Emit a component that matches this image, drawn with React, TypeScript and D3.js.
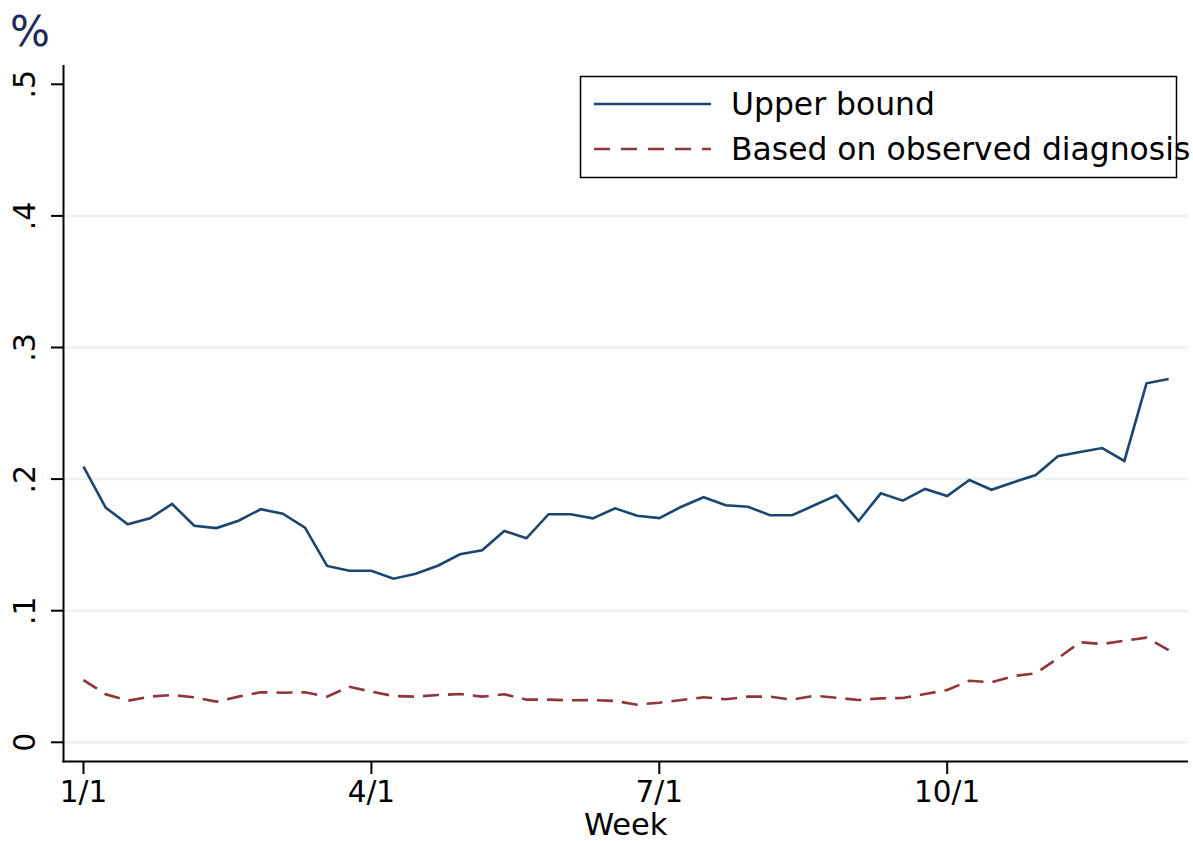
import React from "react";
import * as d3 from "d3";

const weeks: number[] = Array.from({ length: 50 }, (_, i) => i + 1);

const upperBound: number[] = [
  0.2094, 0.1783, 0.1657, 0.1702, 0.1811, 0.1646, 0.1628, 0.1684, 0.1771, 0.1737,
  0.1631, 0.1340, 0.1304, 0.1304, 0.1243, 0.1281, 0.1342, 0.1429, 0.1459, 0.1606,
  0.1550, 0.1733, 0.1733, 0.1702, 0.1778, 0.1722, 0.1704, 0.1790, 0.1862, 0.1801,
  0.1790, 0.1725, 0.1725, 0.1801, 0.1877, 0.1682, 0.1892, 0.1836, 0.1925, 0.1872,
  0.1993, 0.1919, 0.1976, 0.2031, 0.2173, 0.2206, 0.2236, 0.2138, 0.2728, 0.2761,
];

const observed: number[] = [
  0.0473, 0.0365, 0.0316, 0.0347, 0.0359, 0.0342, 0.0309, 0.0347, 0.0380, 0.0377,
  0.0380, 0.0347, 0.0422, 0.0385, 0.0352, 0.0347, 0.0359, 0.0367, 0.0347, 0.0365,
  0.0324, 0.0324, 0.0319, 0.0321, 0.0314, 0.0286, 0.0301, 0.0321, 0.0342, 0.0327,
  0.0347, 0.0347, 0.0324, 0.0354, 0.0339, 0.0321, 0.0334, 0.0337, 0.0367, 0.0397,
  0.0468, 0.0456, 0.0504, 0.0524, 0.0638, 0.0760, 0.0747, 0.0772, 0.0795, 0.0701,
];

const xTickWeeks: number[] = [1, 14, 27, 40];
const xTickLabels: string[] = ["1/1", "4/1", "7/1", "10/1"];
const yTicks: number[] = [0, 0.1, 0.2, 0.3, 0.4, 0.5];
const yTickLabels: string[] = ["0", ".1", ".2", ".3", ".4", ".5"];
const gridTicks: number[] = [0, 0.1, 0.2, 0.3, 0.4];
const seriesNames: string[] = ["Upper bound", "Based on observed diagnosis"];

const FONT = "'DejaVu Sans', sans-serif";
const NAVY = "#1a476f";
const MAROON = "#90353b";

export default function App() {
  const W = 1193;
  const H = 841;
  const axisX = 63.5;
  const axisY = 761.5;
  const axisRight = 1188;
  const axisTop = 65;

  const x = d3.scaleLinear().domain([1, 50]).range([83.5, 83.5 + 49 * 22.146]);
  const y = d3.scaleLinear().domain([0, 0.5]).range([742.3, 84.3]);

  const line = d3
    .line<number>()
    .x((_, i) => x(weeks[i]))
    .y((d) => y(d));

  const upperPath = line(upperBound) || "";
  const obsPath = line(observed) || "";

  return (
    <svg
      width={W}
      height={H}
      viewBox={`0 0 ${W} ${H}`}
      style={{ position: "absolute", left: 0, top: 0, background: "#fff" }}
      fontFamily={FONT}
    >
      <rect x={0} y={0} width={W} height={H} fill="#fff" />
      {gridTicks.map((t) => (
        <line
          key={"g" + t}
          x1={axisX + 1}
          x2={axisRight}
          y1={y(t)}
          y2={y(t)}
          stroke="#eaf1f2"
          strokeWidth={2.5}
        />
      ))}
      <path d={upperPath} fill="none" stroke={NAVY} strokeWidth={2.6} strokeLinejoin="miter" />
      <path
        d={obsPath}
        fill="none"
        stroke={MAROON}
        strokeWidth={2.6}
        strokeDasharray="16 9"
      />
      <line x1={axisX} x2={axisX} y1={axisTop} y2={axisY + 1} stroke="#000" strokeWidth={2} />
      <line x1={axisX - 1} x2={axisRight} y1={axisY} y2={axisY} stroke="#000" strokeWidth={2} />
      {yTicks.map((t, i) => (
        <g key={"y" + t}>
          <line x1={51} x2={axisX} y1={y(t)} y2={y(t)} stroke="#000" strokeWidth={2} />
          <text
            transform={`translate(35, ${y(t)}) rotate(-90)`}
            textAnchor="middle"
            fontSize={30}
            fill="#000"
          >
            {yTickLabels[i]}
          </text>
        </g>
      ))}
      {xTickWeeks.map((w, i) => (
        <g key={"x" + w}>
          <line x1={x(w)} x2={x(w)} y1={axisY} y2={774} stroke="#000" strokeWidth={2} />
          <text x={x(w)} y={801.5} textAnchor="middle" fontSize={29.5} fill="#000">
            {xTickLabels[i]}
          </text>
        </g>
      ))}
      <text x={(axisX + axisRight) / 2} y={835} textAnchor="middle" fontSize={30.5} fill="#000">
        Week
      </text>
      <text x={10} y={46} fontSize={42} fill="#1a2a5a">
        %
      </text>
      <rect x={580.5} y={76.5} width={596} height={101} fill="#fff" stroke="#000" strokeWidth={1.5} />
      <line x1={594} x2={711} y1={104} y2={104} stroke={NAVY} strokeWidth={2.6} />
      <line x1={594} x2={711} y1={149} y2={149} stroke={MAROON} strokeWidth={2.6} strokeDasharray="16 11" />
      <text x={731} y={115} fontSize={31.4} fill="#000">
        {seriesNames[0]}
      </text>
      <text x={731} y={160} fontSize={31.4} fill="#000">
        {seriesNames[1]}
      </text>
    </svg>
  );
}
